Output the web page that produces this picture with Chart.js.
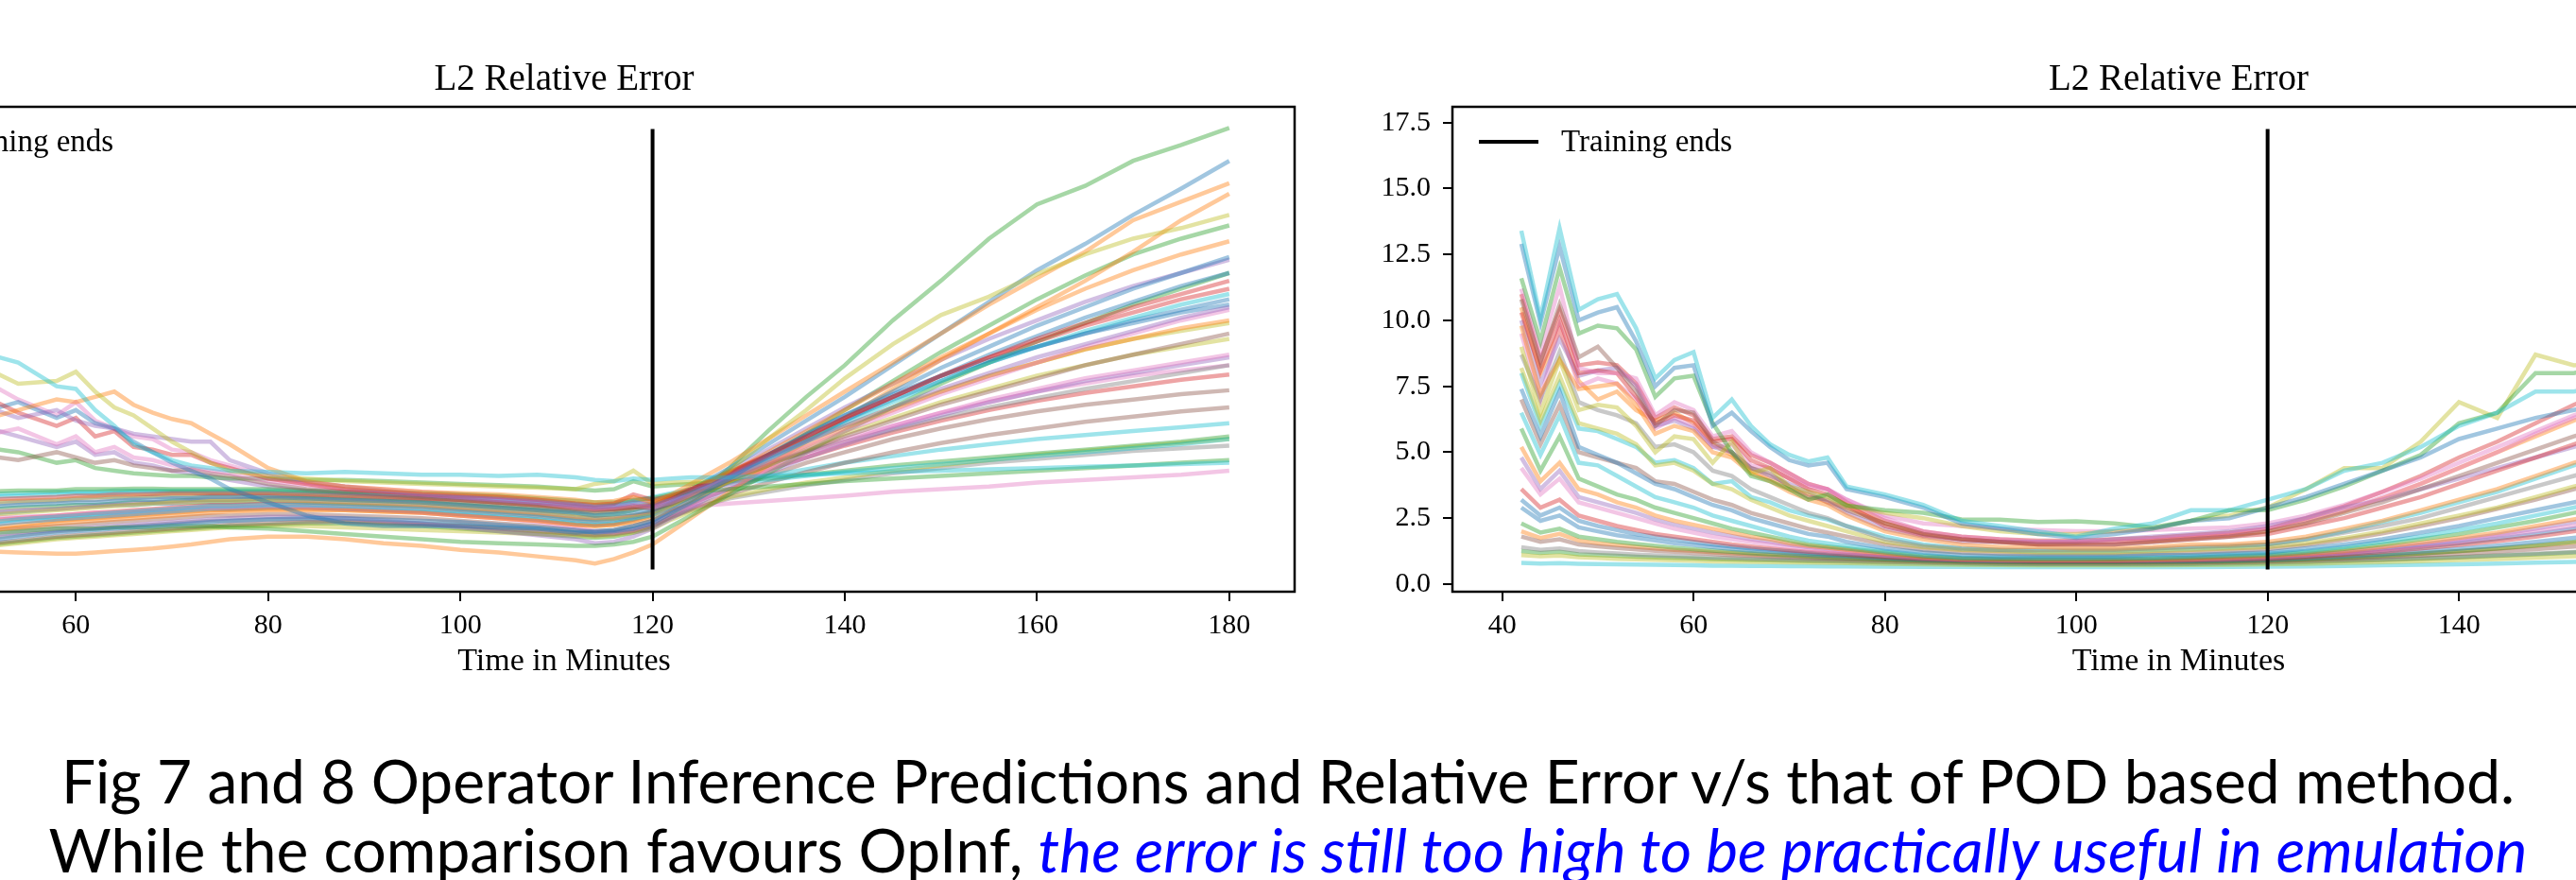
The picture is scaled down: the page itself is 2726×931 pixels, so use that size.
<!DOCTYPE html>
<html lang="en">
<head>
<meta charset="UTF-8">
<title>L2 Relative Error - OpInf vs POD</title>
<script src="https://cdn.jsdelivr.net/npm/chart.js@4.4.1/dist/chart.umd.min.js"></script>
<style>
  html, body { margin: 0; padding: 0; overflow: hidden; }
  body { width: 2726px; height: 931px; position: relative; background: #fff; }
  .plot { position: absolute; top: 0; }
  .caption {
    position: absolute; left: 0; width: 2726px; text-align: center;
    font-family: Lato, sans-serif; font-size: 64px; line-height: 74px;
    color: #000; white-space: nowrap;
  }
  .caption em { color: #0000ff; }
</style>
</head>
<body>

<div class="plot" style="left:-276px; width:1746px; height:740px;"><canvas id="left" width="1746" height="740"></canvas></div>
<div class="plot" style="left:1437px; width:1737px; height:740px;"><canvas id="right" width="1737" height="740"></canvas></div>

<div class="caption" style="top:789px;">Fig 7 and 8 Operator Inference Predictions and Relative Error v/s that of POD based method.</div>
<div class="caption" style="top:862px;">While the comparison favours OpInf, <em>the error is still too high to be practically useful in emulation</em></div>

<script>
// ---- shared axis data ----
const xTicks = [40, 60, 80, 100, 120, 140, 160, 180];
const yTicks = [0, 2.5, 5, 7.5, 10, 12.5, 15, 17.5];
const trainEnd = 120;              // minute where training ends
const trainLine = [0.55, 17.26];   // extent of the vertical marker

// ---- left panel (OpInf), sampled minutes ----
const leftT = [50,54,58,60,62,64,66,68,70,72, 74,76,80,84,88,92,96,100,104,108,
               112,114,116,118,120,122,124,126,128,132, 136,140,145,150,155,160,165,170,175,180];

const L1 = [8.8,8.4,7.5,7.4,6.6,6.0,5.3,5.0,4.7,4.5, 4.4,4.3,4.25,4.2,4.25,4.2,4.15,4.15,4.1,4.15,
            4.05,3.95,3.9,4.0,3.95,4.0,4.05,4.05,4.05,4.1, 4.15,4.2,4.25,4.3,4.35,4.4,4.45,4.5,4.55,4.6];
const L2 = [8.3,7.6,7.7,8.05,7.3,6.7,6.4,5.9,5.4,5.0, 4.6,4.3,4.1,4.0,3.9,3.85,3.8,3.75,3.7,3.65,
            3.6,3.8,3.9,4.3,3.8,3.85,3.87,3.9,4.3,5.5, 6.6,7.8,9.1,10.2,10.9,11.75,12.5,13.1,13.5,14.0];
const L3 = [6.2,6.6,7.0,6.9,7.1,7.3,6.8,6.5,6.26,6.1, 5.7,5.3,4.4,3.9,3.7,3.6,3.5,3.45,3.4,3.3,
            3.2,3.1,3.15,3.3,3.1,3.4,3.8,4.2,4.6,5.5, 6.4,7.3,8.4,9.5,10.6,11.6,12.6,13.8,14.5,15.2];
const L4 = [6.8,6.3,6.6,6.2,6.0,5.9,5.7,5.6,5.5,5.4, 5.4,4.7,4.2,3.9,3.7,3.55,3.4,3.3,3.2,3.1,
            3.0,2.9,2.95,3.1,3.0,3.2,3.5,3.8,4.1,4.8, 5.4,6.0,6.7,7.4,8.0,8.6,9.1,9.6,10.1,10.5];
const L5 = [7.2,6.5,6.0,6.3,5.6,5.8,5.2,5.1,4.9,4.9, 4.6,4.4,4.0,3.8,3.6,3.5,3.4,3.35,3.3,3.2,
            3.05,3.0,3.05,3.4,3.2,3.35,3.6,3.9,4.2,4.9, 5.6,6.3,7.1,7.9,8.6,9.3,9.9,10.5,11.0,11.5];
const L6 = [6.5,6.9,6.3,6.6,6.1,5.9,5.4,5.0,4.6,4.3, 4.0,3.6,3.1,2.6,2.3,2.2,2.2,2.2,2.15,2.1,
            1.95,2.0,2.05,2.2,2.4,2.8,3.2,3.6,4.0,4.9, 5.7,6.4,7.2,7.9,8.5,9.0,9.5,9.9,10.3,10.6];
const L7 = [5.6,5.9,5.3,5.6,5.0,5.2,4.8,4.7,4.5,4.4, 4.3,4.2,3.9,3.75,3.6,3.5,3.4,3.3,3.2,3.1,
            2.9,2.85,2.9,3.0,2.9,3.1,3.4,3.7,4.0,4.6, 5.2,5.8,6.5,7.2,7.8,8.4,9.0,9.5,10.0,10.4];
const L8 = [4.9,4.7,5.0,4.8,4.6,4.7,4.5,4.4,4.3,4.35, 4.2,4.1,3.8,3.6,3.5,3.4,3.3,3.2,3.1,3.0,
            2.85,2.8,2.85,2.95,2.85,3.05,3.35,3.65,3.95,4.5, 5.05,5.6,6.2,6.8,7.3,7.8,8.3,8.7,9.1,9.5];
const L9 = [3.5,3.55,3.55,3.6,3.6,3.6,3.62,3.62,3.6,3.6, 3.6,3.6,3.6,3.55,3.5,3.5,3.45,3.4,3.35,3.25,
            3.15,3.1,3.1,3.2,3.25,3.4,3.5,3.55,3.6,3.7, 3.8,3.9,4.0,4.1,4.2,4.3,4.4,4.5,4.6,4.7];
const L10 = [3.2,3.25,3.3,3.35,3.35,3.4,3.4,3.42,3.45,3.45, 3.45,3.45,3.45,3.4,3.35,3.3,3.25,3.2,3.1,3.0,
             2.9,2.85,2.85,2.9,3.0,3.3,3.6,3.9,4.25,4.9, 5.6,6.3,7.1,7.9,8.6,9.2,9.8,10.3,10.8,11.2];
const L11 = [2.9,3.0,3.05,3.1,3.1,3.15,3.2,3.2,3.25,3.25, 3.3,3.3,3.3,3.25,3.2,3.15,3.1,3.0,2.9,2.8,
             2.7,2.6,2.65,2.7,2.8,3.1,3.45,3.8,4.15,4.9, 5.65,6.4,7.3,8.2,9.0,9.8,10.5,11.2,11.8,12.4];
const L12 = [2.6,2.7,2.8,2.85,2.9,2.95,3.0,3.05,3.1,3.1, 3.15,3.15,3.2,3.15,3.1,3.05,3.0,2.9,2.8,2.7,
             2.55,2.5,2.5,2.6,2.7,3.0,3.3,3.6,3.9,4.5, 5.1,5.7,6.3,6.9,7.4,7.9,8.3,8.7,9.0,9.3];
const L13 = [2.3,2.45,2.55,2.6,2.65,2.7,2.75,2.8,2.85,2.9, 2.95,2.95,3.0,3.0,2.95,2.9,2.85,2.75,2.65,2.55,
             2.4,2.35,2.4,2.5,2.6,2.95,3.3,3.65,4.0,4.7, 5.4,6.1,6.9,7.7,8.4,9.0,9.6,10.1,10.6,11.0];
const L14 = [2.0,2.15,2.3,2.35,2.4,2.45,2.5,2.55,2.6,2.65, 2.7,2.75,2.8,2.8,2.8,2.75,2.7,2.6,2.5,2.4,
             2.25,2.2,2.25,2.35,2.5,2.85,3.2,3.55,3.9,4.6, 5.25,5.9,6.6,7.3,7.9,8.4,8.9,9.3,9.7,10.0];
const L15 = [1.6,1.8,1.95,2.0,2.05,2.1,2.15,2.2,2.25,2.3, 2.35,2.4,2.45,2.5,2.5,2.45,2.4,2.35,2.25,2.15,
             2.05,1.95,2.0,2.1,2.3,2.7,3.1,3.5,3.9,4.7, 5.45,6.2,7.1,7.9,8.7,9.4,10.1,10.7,11.3,11.8];
const L16 = [2.5,2.55,2.6,2.65,2.7,2.7,2.75,2.8,2.85,2.9, 2.9,2.9,2.95,2.9,2.85,2.8,2.7,2.6,2.5,2.35,
             2.15,2.0,1.95,2.05,2.3,2.65,3.0,3.35,3.7,4.3, 4.9,5.4,6.0,6.5,7.0,7.4,7.8,8.1,8.4,8.7];
const L17 = [1.9,2.0,2.1,2.1,2.1,2.15,2.15,2.15,2.2,2.2, 2.2,2.15,2.1,2.0,1.9,1.8,1.7,1.6,1.55,1.5,
             1.45,1.45,1.5,1.6,1.8,2.2,2.6,3.0,3.4,4.2, 5.0,5.8,6.7,7.6,8.4,9.2,9.9,10.6,11.2,11.8];
const L18 = [1.25,1.2,1.15,1.15,1.2,1.25,1.3,1.35,1.42,1.5, 1.6,1.7,1.8,1.8,1.7,1.55,1.45,1.3,1.2,1.05,
             0.9,0.78,0.95,1.2,1.5,2.0,2.5,3.0,3.5,4.5, 5.4,6.3,7.4,8.5,9.5,10.5,11.5,12.6,13.8,14.8];
const L19 = [1.8,1.95,2.05,2.1,2.15,2.2,2.25,2.3,2.35,2.4, 2.45,2.5,2.55,2.55,2.5,2.4,2.3,2.15,2.0,1.85,
             1.7,1.55,1.6,1.8,2.1,2.5,2.9,3.3,3.6,4.2, 4.8,5.3,5.9,6.4,6.9,7.3,7.7,8.0,8.3,8.6];
const L20 = [3.0,3.1,3.15,3.2,3.2,3.25,3.25,3.3,3.3,3.3, 3.35,3.35,3.35,3.3,3.25,3.2,3.15,3.05,2.95,2.85,
             2.75,2.7,2.75,2.85,2.95,3.25,3.55,3.85,4.1,4.6, 5.0,5.4,5.85,6.3,6.7,7.05,7.4,7.7,8.0,8.3];
const L21 = [2.7,2.8,2.85,2.9,2.95,3.0,3.05,3.1,3.1,3.15, 3.2,3.2,3.25,3.2,3.15,3.1,3.0,2.9,2.8,2.7,
             2.55,2.5,2.5,2.6,2.7,2.85,2.95,3.0,3.05,3.15, 3.25,3.35,3.5,3.6,3.7,3.85,3.95,4.05,4.15,4.3];
const L22 = [3.4,3.45,3.5,3.5,3.5,3.55,3.55,3.55,3.55,3.55, 3.55,3.55,3.55,3.5,3.45,3.4,3.35,3.3,3.2,3.1,
             3.0,2.95,3.0,3.15,3.3,3.45,3.6,3.7,3.8,3.95, 4.1,4.25,4.4,4.55,4.7,4.85,5.0,5.15,5.3,5.5];
const L23 = [5.2,5.0,4.6,4.7,4.4,4.3,4.2,4.15,4.1,4.1, 4.05,4.0,4.0,3.95,3.95,3.9,3.85,3.8,3.75,3.7,
             3.6,3.55,3.6,3.9,3.7,3.75,3.8,3.85,3.9,4.0, 4.15,4.3,4.5,4.65,4.8,4.95,5.1,5.25,5.4,5.6];
const L24 = [2.2,2.35,2.45,2.5,2.55,2.6,2.65,2.7,2.75,2.8, 2.85,2.85,2.9,2.9,2.85,2.8,2.75,2.65,2.55,2.45,
             2.3,2.25,2.3,2.45,2.65,3.1,3.55,4.0,4.4,5.3, 6.2,7.1,8.3,9.5,10.7,11.9,12.9,14.0,15.0,16.05];
const L25 = [2.8,2.9,2.95,3.0,3.0,3.05,3.1,3.1,3.15,3.2, 3.2,3.2,3.25,3.25,3.2,3.15,3.1,3.0,2.9,2.8,
             2.65,2.6,2.65,2.8,3.0,3.3,3.55,3.8,4.4,5.8, 7.1,8.3,10.0,11.5,13.1,14.4,15.1,16.05,16.65,17.3];
const L26 = [1.5,1.65,1.8,1.85,1.9,1.95,2.0,2.05,2.1,2.15, 2.2,2.25,2.3,2.35,2.35,2.3,2.25,2.2,2.1,2.0,
             1.9,1.85,1.9,2.0,2.2,2.55,2.85,3.15,3.4,3.85, 4.25,4.6,5.0,5.35,5.65,5.9,6.15,6.35,6.55,6.7];
const L27 = [1.4,1.55,1.7,1.75,1.8,1.85,1.9,1.95,2.0,2.05, 2.1,2.15,2.2,2.2,2.15,2.1,2.05,2.0,1.95,1.9,
             1.85,1.8,1.85,1.95,2.1,2.45,2.75,3.05,3.3,3.6, 3.85,4.05,4.3,4.5,4.7,4.9,5.05,5.2,5.35,5.5];
const L28 = [2.4,2.5,2.6,2.65,2.7,2.75,2.8,2.85,2.9,2.95, 3.0,3.0,3.05,3.05,3.0,2.95,2.9,2.8,2.7,2.6,
             2.45,2.4,2.45,2.55,2.7,3.0,3.3,3.6,3.85,4.35, 4.8,5.25,5.75,6.2,6.6,6.95,7.25,7.5,7.75,7.95];
const L29 = [2.1,2.25,2.4,2.45,2.5,2.55,2.6,2.65,2.7,2.75, 2.8,2.8,2.85,2.85,2.8,2.75,2.7,2.6,2.5,2.4,
             2.25,2.2,2.25,2.4,2.6,3.0,3.4,3.8,4.2,5.0, 5.8,6.6,7.6,8.6,9.5,10.4,11.2,11.9,12.5,13.0];
const L30 = [3.1,3.15,3.2,3.25,3.3,3.3,3.35,3.35,3.4,3.4, 3.4,3.4,3.4,3.35,3.3,3.25,3.2,3.1,3.0,2.9,
             2.8,2.75,2.8,2.9,3.05,3.35,3.65,3.95,4.25,4.85, 5.45,6.0,6.7,7.3,7.9,8.4,8.9,9.3,9.6,9.9];
const L31 = [1.7,1.85,2.0,2.05,2.1,2.15,2.2,2.25,2.3,2.35, 2.4,2.4,2.45,2.45,2.4,2.35,2.3,2.25,2.15,2.05,
             1.95,1.9,1.95,2.05,2.25,2.55,2.8,3.05,3.25,3.5, 3.75,3.95,4.2,4.4,4.6,4.75,4.9,5.05,5.15,5.25];
const L32 = [6.0,5.6,5.2,5.4,4.9,5.0,4.6,4.5,4.3,4.2, 4.1,3.95,3.7,3.55,3.45,3.35,3.25,3.15,3.05,2.95,
             2.8,2.75,2.8,2.95,2.9,3.25,3.6,3.95,4.3,5.1, 5.9,6.7,7.6,8.5,9.3,10.0,10.7,11.3,11.8,12.3];
const L33 = [7.8,7.0,6.4,6.9,6.2,5.9,5.6,5.5,5.1,5.0, 4.7,4.5,4.1,3.85,3.7,3.6,3.5,3.4,3.3,3.2,
             3.05,3.0,3.05,3.2,3.1,3.3,3.55,3.8,4.0,4.5, 5.0,5.5,6.0,6.5,6.9,7.3,7.6,7.9,8.1,8.3];
const L34 = [2.65,2.75,2.85,2.9,2.95,3.0,3.0,3.05,3.05,3.1, 3.1,3.1,3.15,3.1,3.05,3.0,2.95,2.85,2.75,2.65,
             2.5,2.45,2.5,2.6,2.75,3.05,3.4,3.75,4.1,4.8, 5.5,6.2,7.0,7.7,8.4,9.0,9.5,10.0,10.4,10.8];
const L35 = [1.45,1.6,1.75,1.8,1.85,1.9,1.95,2.0,2.05,2.1, 2.15,2.2,2.25,2.3,2.3,2.25,2.2,2.1,2.0,1.9,
             1.8,1.75,1.8,1.95,2.15,2.6,3.05,3.5,3.95,4.85, 5.7,6.6,7.7,8.8,9.8,10.8,11.7,12.5,13.1,13.6];
const L36 = [3.3,3.35,3.4,3.45,3.45,3.45,3.5,3.5,3.5,3.5, 3.5,3.5,3.5,3.45,3.4,3.35,3.3,3.25,3.15,3.05,
             2.95,2.9,2.95,3.05,3.15,3.35,3.55,3.7,3.85,4.1, 4.35,4.6,4.85,5.1,5.3,5.5,5.65,5.8,5.95,6.1];
const L37 = [2.0,2.1,2.2,2.25,2.3,2.35,2.4,2.45,2.5,2.55, 2.6,2.6,2.65,2.65,2.6,2.55,2.5,2.4,2.3,2.2,
             2.05,2.0,2.05,2.2,2.4,2.75,3.05,3.35,3.6,4.1, 4.6,5.0,5.5,5.9,6.25,6.55,6.8,7.0,7.2,7.35];

// ---- right panel (POD), sampled minutes ----
const rightT = [42,44,46,48,50,52,54,56,58,60, 62,64,66,68,70,72,74,76,80,84,
                88,92,96,100,104,108,112,116,120,124, 128,132,136,140,144,148,152,156];

const R1 = [13.4,10.1,13.5,10.4,10.8,11.0,9.7,7.8,8.5,8.8, 6.3,7.0,6.0,5.3,4.9,4.65,4.8,3.7,3.4,3.0,
            2.4,2.2,2.0,1.8,2.1,2.3,2.8,2.8,3.2,3.6, 4.3,4.6,5.2,6.0,6.5,7.3,7.3,7.6];
const R2 = [12.9,9.9,12.8,10.0,10.3,10.5,9.2,7.5,8.2,8.3, 6.0,6.5,5.8,5.2,4.7,4.5,4.6,3.6,3.3,2.9,
            2.3,2.1,1.9,1.75,1.9,2.1,2.4,2.5,2.9,3.3, 3.8,4.3,4.8,5.5,5.9,6.3,6.6,6.9];
const R3 = [11.6,9.2,12.0,9.5,9.8,9.7,8.9,7.1,7.8,7.9, 6.1,5.0,4.1,3.9,3.6,3.2,3.4,2.97,2.8,2.7,
            2.45,2.44,2.35,2.38,2.3,2.15,2.4,2.8,2.8,3.2, 3.7,4.3,4.9,6.1,6.5,8.0,8.0,8.3];
const R4 = [9.0,6.5,8.5,6.6,6.8,6.7,6.0,5.0,5.6,5.5, 4.6,5.4,4.2,4.4,3.7,3.5,3.3,3.0,2.7,2.5,
            2.2,2.0,1.9,1.9,2.0,2.1,2.4,2.6,2.9,3.6, 4.4,4.4,5.4,6.9,6.3,8.7,8.3,8.4];
const R5 = [10.8,8.4,10.6,8.6,9.0,8.2,7.3,6.0,6.6,6.5, 5.4,5.0,4.4,4.2,3.7,3.3,3.2,2.8,2.3,1.9,
            1.7,1.6,1.5,1.5,1.5,1.6,1.7,1.8,2.0,2.3, 2.7,3.1,3.6,4.1,4.6,5.1,5.6,6.0];
const R6 = [11.2,8.8,11.3,8.2,8.0,8.0,7.8,6.4,6.9,6.6, 5.6,5.8,5.0,4.6,4.2,3.8,3.6,3.2,2.5,2.0,
            1.8,1.7,1.6,1.6,1.6,1.7,1.8,1.9,2.1,2.4, 2.8,3.3,3.8,4.4,5.0,5.7,6.3,6.8];
const R7 = [10.3,8.1,10.0,8.0,8.1,8.0,7.1,6.1,6.4,6.2, 5.4,5.5,4.7,4.4,4.0,3.6,3.4,3.0,2.2,1.85,
            1.7,1.6,1.5,1.5,1.5,1.6,1.7,1.8,1.9,2.2, 2.5,2.9,3.3,3.8,4.3,4.8,5.3,5.8];
const R8 = [9.8,7.2,8.5,7.4,7.5,7.6,6.8,5.7,6.0,5.8, 5.0,4.8,4.2,3.9,3.5,3.2,3.0,2.6,2.0,1.7,
            1.5,1.4,1.4,1.35,1.35,1.4,1.5,1.5,1.6,1.8, 2.1,2.4,2.8,3.2,3.6,4.1,4.6,5.0];
const R9 = [10.0,7.6,9.3,7.9,8.1,8.2,7.5,6.0,6.2,5.9, 5.2,5.0,4.4,4.1,3.8,3.5,3.1,2.7,2.1,1.8,
            1.6,1.6,1.6,1.6,1.7,1.8,1.9,2.0,2.2,2.5, 2.9,3.2,3.6,4.0,4.4,4.8,5.2,5.6];
const R10 = [8.7,7.0,8.8,6.9,6.6,6.4,6.1,5.2,5.3,5.0, 4.3,4.1,3.6,3.3,3.0,2.7,2.5,2.2,1.7,1.45,
             1.35,1.3,1.3,1.3,1.3,1.35,1.4,1.45,1.5,1.7, 1.95,2.2,2.5,2.9,3.3,3.7,4.1,4.5];
const R11 = [8.2,6.2,7.9,6.1,5.9,5.7,5.3,4.5,4.6,4.3, 3.8,3.6,3.2,2.9,2.6,2.4,2.2,2.0,1.6,1.4,
             1.3,1.25,1.2,1.2,1.2,1.25,1.3,1.35,1.4,1.55, 1.75,2.0,2.3,2.6,2.9,3.3,3.7,4.0];
const R12 = [7.4,5.6,7.3,5.2,4.9,4.6,4.2,3.8,3.6,3.3, 3.0,2.8,2.5,2.3,2.1,1.9,1.8,1.6,1.35,1.2,
             1.1,1.05,1.05,1.05,1.05,1.1,1.1,1.15,1.2,1.35, 1.5,1.7,1.95,2.2,2.5,2.8,3.1,3.4];
const R13 = [6.5,4.9,6.4,4.6,4.5,4.1,3.7,3.3,3.1,2.9, 2.6,2.4,2.2,2.0,1.8,1.65,1.55,1.45,1.25,1.1,
             1.0,1.0,0.98,0.98,1.0,1.0,1.05,1.1,1.15,1.25, 1.4,1.6,1.8,2.05,2.3,2.6,2.9,3.2];
const R14 = [5.9,4.3,5.6,4.0,3.7,3.4,3.2,2.9,2.7,2.5, 2.3,2.1,1.95,1.8,1.65,1.5,1.42,1.35,1.2,1.05,
             0.98,0.95,0.95,0.95,0.95,0.97,1.0,1.05,1.1,1.2, 1.33,1.5,1.7,1.9,2.15,2.4,2.7,3.0];
const R15 = [5.2,3.9,4.6,3.6,3.4,3.1,2.9,2.6,2.4,2.25, 2.1,1.95,1.8,1.7,1.55,1.45,1.38,1.3,1.15,1.02,
             0.96,0.93,0.92,0.92,0.92,0.94,0.96,1.0,1.05,1.14, 1.25,1.4,1.57,1.75,1.95,2.2,2.45,2.7];
const R16 = [4.4,3.4,4.0,3.1,2.9,2.7,2.5,2.3,2.1,1.95, 1.8,1.7,1.6,1.5,1.4,1.32,1.25,1.2,1.08,0.98,
             0.93,0.9,0.9,0.9,0.9,0.91,0.93,0.96,1.0,1.08, 1.18,1.3,1.45,1.6,1.8,2.0,2.2,2.45];
const R17 = [3.6,2.9,3.2,2.6,2.4,2.2,2.05,1.9,1.8,1.7, 1.6,1.5,1.42,1.35,1.28,1.22,1.17,1.12,1.03,0.95,
             0.9,0.88,0.87,0.87,0.87,0.88,0.9,0.93,0.96,1.03, 1.12,1.22,1.35,1.48,1.63,1.8,2.0,2.2];
const R18 = [2.9,2.4,2.6,2.15,2.0,1.85,1.75,1.65,1.55,1.48, 1.4,1.33,1.27,1.22,1.17,1.12,1.08,1.05,0.98,0.92,
             0.88,0.86,0.85,0.85,0.85,0.86,0.87,0.89,0.92,0.98, 1.05,1.13,1.23,1.34,1.46,1.6,1.75,1.9];
const R19 = [2.3,1.95,2.1,1.8,1.7,1.6,1.52,1.45,1.38,1.32, 1.27,1.22,1.17,1.13,1.09,1.05,1.02,0.99,0.94,0.89,
             0.86,0.84,0.83,0.83,0.83,0.84,0.85,0.87,0.9,0.95, 1.01,1.08,1.16,1.25,1.35,1.47,1.6,1.73];
const R20 = [1.8,1.6,1.7,1.5,1.43,1.37,1.31,1.26,1.22,1.18, 1.14,1.1,1.07,1.04,1.01,0.98,0.96,0.94,0.9,0.86,
             0.83,0.81,0.8,0.8,0.8,0.81,0.82,0.84,0.87,0.91, 0.96,1.02,1.08,1.15,1.23,1.32,1.42,1.52];
const R21 = [1.4,1.3,1.35,1.25,1.2,1.16,1.12,1.09,1.06,1.03, 1.0,0.98,0.96,0.94,0.92,0.9,0.88,0.87,0.84,0.81,
             0.79,0.77,0.76,0.76,0.76,0.77,0.78,0.8,0.82,0.85, 0.89,0.93,0.98,1.03,1.09,1.15,1.22,1.3];
const R22 = [1.1,1.05,1.08,1.02,0.99,0.96,0.94,0.92,0.9,0.88, 0.86,0.85,0.84,0.83,0.82,0.81,0.8,0.79,0.77,0.75,
             0.73,0.72,0.71,0.71,0.71,0.71,0.72,0.73,0.75,0.77, 0.8,0.83,0.87,0.91,0.95,1.0,1.05,1.1];
const R23 = [0.8,0.78,0.79,0.77,0.76,0.75,0.74,0.73,0.72,0.71, 0.7,0.7,0.69,0.69,0.68,0.68,0.67,0.67,0.66,0.65,
             0.65,0.64,0.64,0.64,0.64,0.64,0.64,0.65,0.66,0.67, 0.69,0.71,0.73,0.75,0.78,0.81,0.84,0.88];
const R24 = [9.5,7.0,9.8,7.5,7.8,7.6,7.0,5.9,6.3,6.0, 5.2,5.3,4.5,4.4,4.0,3.7,3.6,3.2,2.6,2.3,
             2.2,2.1,2.05,2.0,2.0,2.05,2.1,2.15,2.3,2.6, 3.0,3.5,4.0,4.6,5.2,5.8,6.4,6.9];
const R25 = [8.0,6.0,7.6,5.9,5.8,5.5,5.2,4.6,4.7,4.4, 3.8,3.9,3.3,3.1,2.8,2.6,2.45,2.2,1.8,1.5,
             1.35,1.3,1.25,1.25,1.25,1.3,1.35,1.4,1.5,1.7, 2.0,2.35,2.7,3.1,3.5,4.0,4.5,4.9];
const R26 = [11.0,8.5,10.4,8.3,8.4,8.3,7.6,6.3,6.7,6.4, 5.5,5.6,4.9,4.6,4.2,3.8,3.6,3.1,2.4,2.0,
             1.8,1.7,1.65,1.65,1.7,1.75,1.85,1.95,2.1,2.5, 2.95,3.5,4.1,4.8,5.4,6.1,6.8,7.4];
const R27 = [3.2,2.6,2.9,2.4,2.2,2.05,1.9,1.8,1.7,1.6, 1.5,1.42,1.35,1.3,1.24,1.18,1.13,1.1,1.02,0.95,
             0.9,0.88,0.87,0.87,0.87,0.88,0.9,0.93,0.97,1.05, 1.15,1.27,1.4,1.55,1.72,1.9,2.1,2.3];
const R28 = [2.0,1.75,1.9,1.65,1.55,1.48,1.41,1.35,1.3,1.26, 1.21,1.17,1.13,1.1,1.07,1.04,1.01,0.99,0.94,0.89,
             0.85,0.83,0.82,0.82,0.82,0.83,0.84,0.86,0.89,0.94, 1.0,1.07,1.15,1.24,1.34,1.45,1.57,1.7];
const R29 = [1.25,1.18,1.22,1.13,1.1,1.07,1.04,1.01,0.99,0.97, 0.95,0.93,0.91,0.9,0.88,0.87,0.86,0.85,0.82,0.8,
             0.78,0.76,0.75,0.75,0.75,0.75,0.76,0.78,0.8,0.83, 0.87,0.91,0.96,1.01,1.07,1.13,1.2,1.27];
const R30 = [4.8,3.6,4.3,3.3,3.1,2.9,2.7,2.45,2.25,2.1, 1.95,1.82,1.7,1.6,1.48,1.39,1.32,1.26,1.12,1.0,
             0.95,0.92,0.91,0.91,0.91,0.92,0.95,0.98,1.02,1.11, 1.21,1.35,1.5,1.67,1.87,2.1,2.35,2.6];
const R31 = [10.5,8.0,9.6,7.7,7.0,7.3,6.6,6.2,6.5,6.1, 5.3,4.9,4.3,4.0,3.6,3.4,3.1,2.9,2.3,1.9,
             1.7,1.6,1.55,1.55,1.6,1.65,1.75,1.85,2.0,2.35, 2.75,3.25,3.8,4.4,5.0,5.6,6.2,6.7];
const R32 = [7.0,5.3,6.8,5.0,4.8,4.6,4.4,3.9,3.8,3.5, 3.2,3.0,2.7,2.5,2.3,2.1,1.95,1.8,1.5,1.3,
             1.2,1.15,1.12,1.12,1.12,1.15,1.2,1.25,1.32,1.48, 1.68,1.92,2.2,2.5,2.85,3.2,3.6,3.95];

// ---- styling ----
const C = { blue:'#1f77b4', orange:'#ff7f0e', green:'#2ca02c', red:'#d62728', purple:'#9467bd',
            brown:'#8c564b', pink:'#e377c2', gray:'#7f7f7f', olive:'#bcbd22', cyan:'#17becf' };

const leftSeries = [L1,L2,L3,L4,L5,L6,L7,L8,L9,L10,L11,L12,L13,L14,L15,L16,L17,L18,L19,L20,
                    L21,L22,L23,L24,L25,L26,L27,L28,L29,L30,L31,L32,L33,L34,L35,L36,L37];
const leftColors = [C.cyan,C.olive,C.orange,C.purple,C.red,C.blue,C.pink,C.brown,C.green,C.red,
                    C.blue,C.olive,C.cyan,C.orange,C.blue,C.pink,C.green,C.orange,C.purple,C.gray,
                    C.pink,C.cyan,C.green,C.blue,C.green,C.brown,C.olive,C.red,C.orange,C.olive,
                    C.gray,C.purple,C.pink,C.blue,C.green,C.cyan,C.brown];
const rightSeries = [R1,R2,R3,R4,R5,R6,R7,R8,R9,R10,R11,R12,R13,R14,R15,R16,
                     R17,R18,R19,R20,R21,R22,R23,R24,R25,R26,R27,R28,R29,R30,R31,R32];
const rightColors = [C.cyan,C.blue,C.green,C.olive,C.brown,C.pink,C.red,C.orange,C.purple,C.gray,C.olive,C.blue,
                     C.cyan,C.green,C.orange,C.pink,C.red,C.blue,C.green,C.brown,C.gray,C.olive,C.cyan,C.pink,
                     C.cyan,C.red,C.blue,C.orange,C.green,C.purple,C.orange,C.brown];

const SERIF = '"Liberation Serif", "DejaVu Serif", serif';

function rgba(hex, a) {
    const n = parseInt(hex.slice(1), 16);
    return `rgba(${n >> 16}, ${(n >> 8) & 255}, ${n & 255}, ${a})`;
}

// frame, title and the legend entry, drawn like matplotlib does
const decor = {
    id: 'decor',
    afterDraw(chart, args, opts) {
        const { ctx, chartArea: a } = chart;
        ctx.save();
        ctx.strokeStyle = '#000';
        ctx.lineWidth = 2.5;
        ctx.strokeRect(a.left, a.top, a.right - a.left, a.bottom - a.top);

        ctx.fillStyle = '#000';
        ctx.font = '39px ' + SERIF;
        ctx.textAlign = 'center';
        ctx.textBaseline = 'alphabetic';
        ctx.fillText(opts.title, (a.left + a.right) / 2, 95);

        ctx.lineWidth = 4;
        ctx.beginPath();
        ctx.moveTo(a.left + 28, a.top + 37);
        ctx.lineTo(a.left + 91, a.top + 37);
        ctx.stroke();
        ctx.font = '33px ' + SERIF;
        ctx.textAlign = 'left';
        ctx.textBaseline = 'middle';
        ctx.fillText(opts.legend, a.left + 115, a.top + 38);
        ctx.restore();
    }
};

function makeChart(id, times, series, colors, xMin, xMax) {
    const datasets = [{
        label: 'Training ends',
        data: [{ x: trainEnd, y: trainLine[0] }, { x: trainEnd, y: trainLine[1] }],
        borderColor: '#000',
        borderWidth: 4,
        pointRadius: 0,
        order: -1
    }];
    series.forEach((vals, k) => {
        datasets.push({
            data: vals.map((v, i) => ({ x: times[i], y: v })),
            borderColor: rgba(colors[k], 0.42),
            borderWidth: 4.5,
            pointRadius: 0,
            tension: 0
        });
    });

    return new Chart(document.getElementById(id), {
        type: 'line',
        data: { datasets },
        options: {
            responsive: false,
            animation: false,
            events: [],
            layout: { padding: { top: 113, right: 100, left: 0, bottom: 0 } },
            plugins: {
                legend: { display: false },
                tooltip: { enabled: false },
                decor: { title: 'L2 Relative Error', legend: 'Training ends' }
            },
            scales: {
                x: {
                    type: 'linear',
                    min: xMin,
                    max: xMax,
                    afterBuildTicks: s => { s.ticks = xTicks.map(v => ({ value: v })); },
                    afterFit: s => { s.height = 114; },
                    border: { display: false },
                    grid: { drawOnChartArea: false, tickLength: 10, color: '#000', lineWidth: 2 },
                    ticks: {
                        autoSkip: false, maxRotation: 0, padding: 8, color: '#000',
                        font: { family: SERIF, size: 30 },
                        callback: v => String(v)
                    },
                    title: {
                        display: true, text: 'Time in Minutes', color: '#000',
                        font: { family: SERIF, size: 34 },
                        padding: { top: 0, bottom: 20 }
                    }
                },
                y: {
                    min: -0.29,
                    max: 18.1,
                    afterBuildTicks: s => { s.ticks = yTicks.map(v => ({ value: v })); },
                    afterFit: s => { s.width = 100; },
                    border: { display: false },
                    grid: { drawOnChartArea: false, tickLength: 10, color: '#000', lineWidth: 2 },
                    ticks: {
                        padding: 13, color: '#000',
                        font: { family: SERIF, size: 30 },
                        callback: v => v.toFixed(1)
                    }
                }
            }
        },
        plugins: [decor]
    });
}

makeChart('left', leftT, leftSeries, leftColors, 34.8, 186.8);
makeChart('right', rightT, rightSeries, rightColors, 34.8, 186.6);
</script>
</body>
</html>
